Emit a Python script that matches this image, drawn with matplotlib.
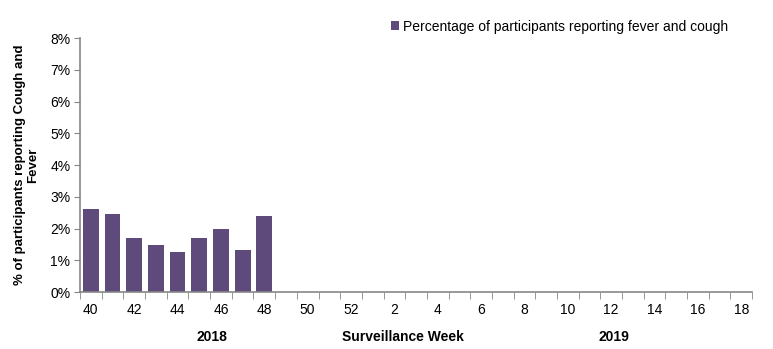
import matplotlib
matplotlib.use("Agg")
import matplotlib.pyplot as plt
import numpy as np

plt.rcParams['font.family'] = ['Liberation Sans', 'DejaVu Sans']

# surveillance weeks 40-52 (2018) then 1-18 (2019)
weeks = list(range(40, 53)) + list(range(1, 19))
pct = [2.61, 2.47, 1.70, 1.48, 1.26, 1.70, 1.98, 1.32, 2.39]  # only first 9 weeks reported
yticks = [0, 1, 2, 3, 4, 5, 6, 7, 8]

bar_color = '#5f4b7b'
axis_color = '#868686'

fig = plt.figure(figsize=(7.73, 3.49), dpi=100)
ax = fig.add_axes([0.1035, 0.1633, 0.8695, 0.7277])

x = np.arange(len(weeks))
ax.bar(x[:len(pct)], pct, width=0.73, color=bar_color,
       label='Percentage of participants reporting fever and cough')

ax.set_xlim(-0.5, len(weeks) - 0.5)
ax.set_ylim(0, 8)
ax.set_yticks(yticks)
ax.set_yticklabels([f'{v}%' for v in yticks], fontsize=10)

# labels every other week, tick marks between categories
ax.set_xticks(x[::2])
ax.set_xticklabels([str(w) for w in weeks[::2]], fontsize=10)
ax.tick_params(axis='x', length=0, pad=8)
ax.set_xticks(np.arange(len(weeks) + 1) - 0.5, minor=True)
ax.tick_params(axis='x', which='minor', length=5, color=axis_color, direction='out')
ax.tick_params(axis='y', length=4, color=axis_color, direction='out', pad=3)

for s in ['top', 'right']:
    ax.spines[s].set_visible(False)
for s in ['left', 'bottom']:
    ax.spines[s].set_color(axis_color)
    ax.spines[s].set_linewidth(1.2)

ax.set_ylabel('% of participants reporting Cough and\nFever', fontsize=9.5,
              fontweight='bold', labelpad=8, linespacing=1.05,
              multialignment='center')

fig.text(212 / 773, 1 - 337 / 349, '2018', ha='center', va='center',
         fontsize=10, fontweight='bold')
fig.text(403 / 773, 1 - 337 / 349, 'Surveillance Week', ha='center', va='center',
         fontsize=10, fontweight='bold')
fig.text(614 / 773, 1 - 337 / 349, '2019', ha='center', va='center',
         fontsize=10, fontweight='bold')

ax.legend(loc='upper left', bbox_to_anchor=(385 / 773, 1 - 14 / 349),
          bbox_transform=fig.transFigure, frameon=False, fontsize=10,
          handlelength=0.6, handleheight=0.6, handletextpad=0.3, borderaxespad=0)

fig.savefig('out.png', dpi=100)
